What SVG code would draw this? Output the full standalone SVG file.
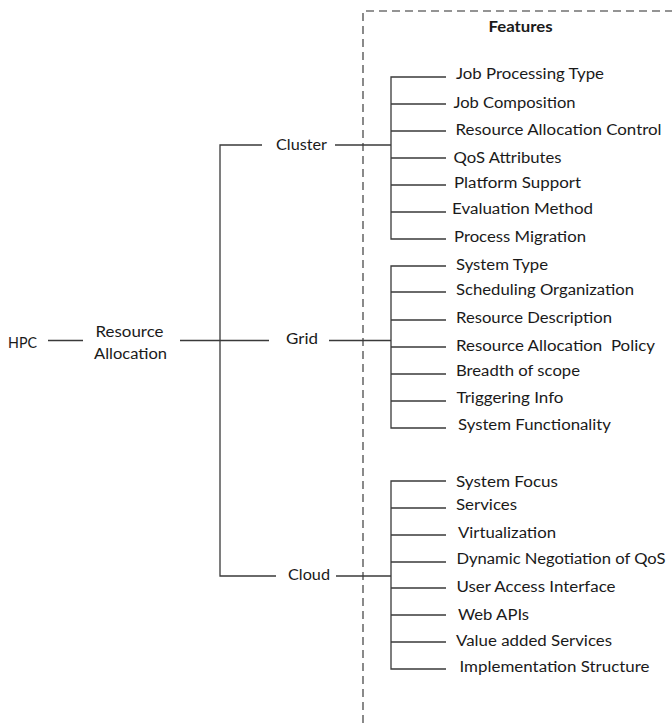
<svg xmlns="http://www.w3.org/2000/svg" width="672" height="723" viewBox="0 0 672 723">
<style>
text{font-family:Lato,"Open Sans","Liberation Sans",sans-serif;font-size:15.5px;fill:#1a1a1a}
.b{font-weight:bold}
.ln{stroke:#3a3a3a;stroke-width:1.3;fill:none}
.dash{stroke:#2a2a2a;stroke-width:1.1;fill:none;stroke-dasharray:8,5}
</style>
<rect width="672" height="723" fill="#fff"/>
<g id="features-box">
<path class="dash" d="M363,723 V11 H672"/>
<text class="b" x="488.5" y="32" textLength="64" lengthAdjust="spacingAndGlyphs">Features</text>
</g>
<g id="connectors">
<path class="ln" d="M48,340.5 H83"/>
<path class="ln" d="M180,340.5 H269"/>
<path class="ln" d="M276,576 H220 V145 H262"/>
<path class="ln" d="M335,145 H391"/>
<path class="ln" d="M329,340.5 H391"/>
<path class="ln" d="M336,576 H391"/>
<path class="ln" d="M446,77 H391 V239 H446 M391,104 H446 M391,131 H446 M391,158 H446 M391,185 H446 M391,212 H446"/>
<path class="ln" d="M446,266 H391 V428 H446 M391,292 H446 M391,320 H446 M391,347 H446 M391,374 H446 M391,401 H446"/>
<path class="ln" d="M446,481 H391 V669 H446 M391,508 H446 M391,535 H446 M391,562 H446 M391,588 H446 M391,615 H446 M391,642 H446"/>
</g>
<g id="hpc"><text x="8" y="348" textLength="29" lengthAdjust="spacingAndGlyphs">HPC</text></g>
<g id="resource-allocation">
<text x="95.5" y="337" textLength="68" lengthAdjust="spacingAndGlyphs">Resource</text>
<text x="94" y="358.5" textLength="73" lengthAdjust="spacingAndGlyphs">Allocation</text>
</g>
<g id="cluster"><text x="276" y="150" textLength="51" lengthAdjust="spacingAndGlyphs">Cluster</text></g>
<g id="grid"><text x="286" y="343.5" textLength="32" lengthAdjust="spacingAndGlyphs">Grid</text></g>
<g id="cloud"><text x="288" y="580" textLength="42" lengthAdjust="spacingAndGlyphs">Cloud</text></g>
<g id="cluster-features">
<text x="456" y="79" textLength="148" lengthAdjust="spacingAndGlyphs">Job Processing Type</text>
<text x="453.5" y="108" textLength="122" lengthAdjust="spacingAndGlyphs">Job Composition</text>
<text x="455.6" y="135" textLength="206" lengthAdjust="spacingAndGlyphs">Resource Allocation Control</text>
<text x="453.5" y="163" textLength="108" lengthAdjust="spacingAndGlyphs">QoS Attributes</text>
<text x="454" y="188" textLength="127" lengthAdjust="spacingAndGlyphs">Platform Support</text>
<text x="452" y="214" textLength="141" lengthAdjust="spacingAndGlyphs">Evaluation Method</text>
<text x="454" y="242" textLength="132" lengthAdjust="spacingAndGlyphs">Process Migration</text>
</g>
<g id="grid-features">
<text x="456" y="270" textLength="92" lengthAdjust="spacingAndGlyphs">System Type</text>
<text x="456" y="295" textLength="178" lengthAdjust="spacingAndGlyphs">Scheduling Organization</text>
<text x="456" y="323" textLength="156" lengthAdjust="spacingAndGlyphs">Resource Description</text>
<text x="456" y="351" textLength="199" lengthAdjust="spacingAndGlyphs" style="white-space:pre">Resource Allocation  Policy</text>
<text x="456" y="376" textLength="124" lengthAdjust="spacingAndGlyphs">Breadth of scope</text>
<text x="456.5" y="403" textLength="107" lengthAdjust="spacingAndGlyphs">Triggering Info</text>
<text x="458" y="430" textLength="153" lengthAdjust="spacingAndGlyphs">System Functionality</text>
</g>
<g id="cloud-features">
<text x="456" y="487" textLength="102" lengthAdjust="spacingAndGlyphs">System Focus</text>
<text x="456" y="510" textLength="61" lengthAdjust="spacingAndGlyphs">Services</text>
<text x="458" y="538" textLength="98" lengthAdjust="spacingAndGlyphs">Virtualization</text>
<text x="456.5" y="564" textLength="209" lengthAdjust="spacingAndGlyphs">Dynamic Negotiation of QoS</text>
<text x="456.5" y="592" textLength="159" lengthAdjust="spacingAndGlyphs">User Access Interface</text>
<text x="458" y="620" textLength="71" lengthAdjust="spacingAndGlyphs">Web APIs</text>
<text x="456" y="646" textLength="156" lengthAdjust="spacingAndGlyphs">Value added Services</text>
<text x="459.5" y="672" textLength="190" lengthAdjust="spacingAndGlyphs">Implementation Structure</text>
</g>
</svg>
